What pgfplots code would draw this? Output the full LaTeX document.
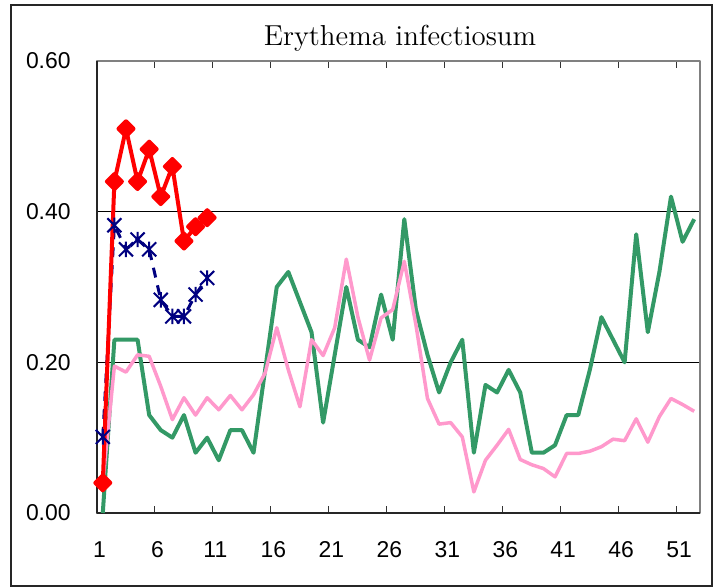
\documentclass[border=0pt]{standalone}
\usepackage{pgfplots}
\pgfplotsset{compat=1.18}
\usepackage{pgfplotstable}
\usepackage{fontspec}
\newfontfamily\lab{Liberation Sans}
\pgfdeclareplotmark{xstar}{%
  \pgfpathmoveto{\pgfqpoint{-\pgfplotmarksize}{-\pgfplotmarksize}}%
  \pgfpathlineto{\pgfqpoint{\pgfplotmarksize}{\pgfplotmarksize}}%
  \pgfpathmoveto{\pgfqpoint{-\pgfplotmarksize}{\pgfplotmarksize}}%
  \pgfpathlineto{\pgfqpoint{\pgfplotmarksize}{-\pgfplotmarksize}}%
  \pgfpathmoveto{\pgfqpoint{0pt}{-1.1\pgfplotmarksize}}%
  \pgfpathlineto{\pgfqpoint{0pt}{1.1\pgfplotmarksize}}%
  \pgfusepathqstroke
}
\definecolor{exgreen}{HTML}{339966}
\definecolor{expink}{HTML}{FF99CC}
\definecolor{exnavy}{HTML}{000080}
\definecolor{exred}{HTML}{FF0000}

\pgfplotstableread{
w v
1 0.00
2 0.23
3 0.23
4 0.23
5 0.13
6 0.11
7 0.10
8 0.13
9 0.08
10 0.10
11 0.07
12 0.11
13 0.11
14 0.08
15 0.19
16 0.30
17 0.32
18 0.28
19 0.24
20 0.12
21 0.21
22 0.30
23 0.23
24 0.22
25 0.29
26 0.23
27 0.39
28 0.27
29 0.21
30 0.16
31 0.20
32 0.23
33 0.08
34 0.17
35 0.16
36 0.19
37 0.16
38 0.08
39 0.08
40 0.09
41 0.13
42 0.13
43 0.19
44 0.26
45 0.23
46 0.20
47 0.37
48 0.24
49 0.32
50 0.42
51 0.36
52 0.39
}\greendata

\pgfplotstableread{
w v
1 0.04
2 0.195
3 0.187
4 0.21
5 0.208
6 0.168
7 0.124
8 0.153
9 0.130
10 0.153
11 0.137
12 0.156
13 0.137
14 0.157
15 0.186
16 0.246
17 0.19
18 0.141
19 0.23
20 0.209
21 0.246
22 0.337
23 0.26
24 0.203
25 0.259
26 0.27
27 0.334
28 0.25
29 0.152
30 0.118
31 0.12
32 0.101
33 0.028
34 0.07
35 0.09
36 0.111
37 0.071
38 0.064
39 0.059
40 0.048
41 0.079
42 0.079
43 0.082
44 0.088
45 0.098
46 0.096
47 0.125
48 0.094
49 0.128
50 0.152
51 0.144
52 0.135
}\pinkdata

\pgfplotstableread{
w v
1 0.101
2 0.382
3 0.35
4 0.363
5 0.35
6 0.283
7 0.261
8 0.261
9 0.29
10 0.312
}\bluedata

\pgfplotstableread{
w v
1 0.04
2 0.44
3 0.51
4 0.44
5 0.483
6 0.42
7 0.46
8 0.361
9 0.38
10 0.392
}\reddata

\begin{document}
\begin{tikzpicture}
\path (-48.5bp,-37bp) rectangle (313.5bp,256.5bp);
\draw[line width=0.75bp, black!85] (-43bp,-36.5bp) rectangle (307.5bp,254bp);
\begin{axis}[
  at={(0,0)}, anchor=south west,
  scale only axis,
  width=301.5bp, height=226bp,
  xmin=0.5, xmax=52.5,
  ymin=0, ymax=0.6,
  clip=false,
  axis line style={draw=black!50, line width=1bp},
  xtick={0.5,5.5,...,50.5},
  xticklabels={1,6,11,16,21,26,31,36,41,46,51},
  ytick={0,0.2,0.4,0.6},
  ymajorgrids,
  grid style={black, line width=0.5bp},
  xtick align=inside,
  major tick length=3.5bp,
  xtick style={black!80, line width=0.5bp},
  ytick style={draw=none},
  /pgf/number format/assume math mode=true,
  /pgf/number format/fixed,
  /pgf/number format/fixed zerofill,
  /pgf/number format/precision=2,
  ticklabel style={font=\lab\fontsize{11.5}{13}\selectfont, text=black},
  yticklabel style={anchor=east, inner sep=0pt, xshift=-13bp},
  xticklabel style={anchor=north, inner sep=0pt, yshift=-14bp, xshift=1.2bp},
  line join=round,
]
\draw[black!85, line width=1bp] (rel axis cs:0,1) -- (rel axis cs:0,0) -- (rel axis cs:1,0);
\addplot[color=exgreen, line width=2bp, no marks] table[x=w,y=v] {\greendata};
\addplot[color=expink, line width=1.75bp, no marks] table[x=w,y=v] {\pinkdata};
\addplot[color=exnavy, line width=1.5bp, dash pattern=on 5bp off 4bp,
  mark=xstar, mark size=3.5bp, mark options={solid, line width=1bp}] table[x=w,y=v] {\bluedata};
\addplot[color=exred, line width=2bp,
  mark=square*, mark size=2.65bp, mark options={solid, rotate=45, fill=exred}] table[x=w,y=v] {\reddata};
\end{axis}
\node[font=\fontsize{14.5}{17}\selectfont, anchor=center] at (151.5bp,237.5bp) {Erythema infectiosum};
\end{tikzpicture}
\end{document}
